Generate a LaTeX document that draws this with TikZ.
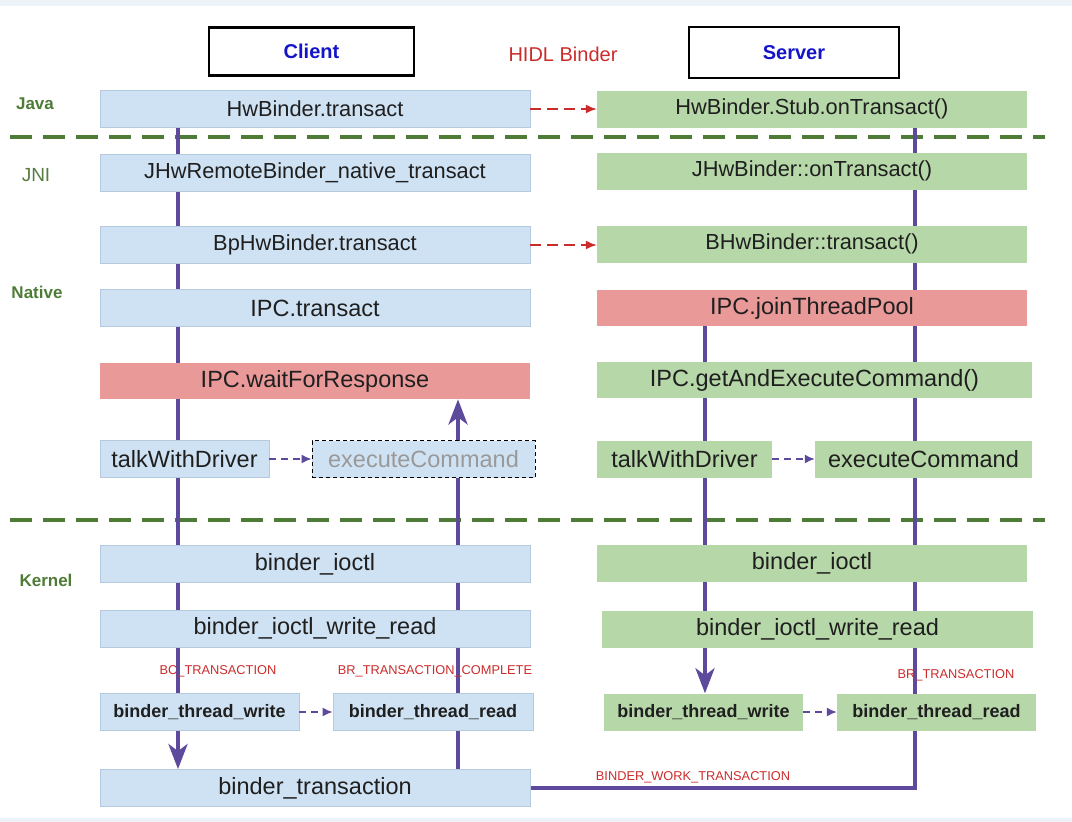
\documentclass[tikz,border=0pt]{standalone}
\usepackage{fontspec}
\setmainfont{Liberation Sans}
\usepackage{tikz}
\usetikzlibrary{arrows.meta}
\usetikzlibrary{positioning}
\definecolor{clientblue}{HTML}{CFE2F3}
\definecolor{clientedge}{HTML}{B6CADF}
\definecolor{servergreen}{HTML}{B6D7A8}
\definecolor{blockred}{HTML}{EA9999}
\definecolor{flowpurple}{HTML}{5E4A9C}
\definecolor{layergreen}{HTML}{4E7B36}
\definecolor{msgred}{HTML}{CC2B2B}
\definecolor{headblue}{HTML}{1414C8}
\definecolor{paper}{HTML}{EEF3F9}
\pgfdeclarelayer{under}
\pgfsetlayers{under,main}
\tikzstyle{cb}=[fill=clientblue,draw=clientedge,line width=0.8pt,inner sep=0,minimum height=37pt,text=black!88]
\tikzstyle{sb}=[fill=servergreen,inner sep=0,minimum height=37pt,text=black!88]
\tikzstyle{hot}=[fill=blockred,draw=none]
\tikzstyle{upper}=[font=\fontsize{21.8}{24}\selectfont]
\tikzstyle{lower}=[font=\fontsize{23.5}{26}\selectfont]
\tikzstyle{thread}=[font=\fontsize{18}{20}\selectfont\bfseries]
\tikzstyle{head}=[draw=black,line width=2.5pt,minimum height=48pt,text=headblue,font=\fontsize{20}{22}\selectfont\bfseries]
\tikzstyle{layername}=[text=layergreen,font=\fontsize{17}{20}\selectfont\bfseries]
\tikzstyle{msg}=[text=msgred,font=\fontsize{12.8}{14}\selectfont]
\tikzstyle{flow}=[draw=flowpurple,line width=4pt]
\tikzstyle{hop}=[flow,-{Stealth[length=25pt,width=19pt,inset=7pt]}]
\tikzstyle{call}=[draw=msgred,line width=1.6pt,dash pattern=on 11pt off 6pt,-{Latex[length=11pt,width=9pt]}]
\tikzstyle{nextstep}=[draw=flowpurple,line width=1.6pt,dash pattern=on 7pt off 5pt,-{Latex[length=10pt,width=9pt]}]
\tikzstyle{layersep}=[draw=layergreen,line width=3.5pt,dash pattern=on 22pt off 11pt]

\begin{document}
\begin{tikzpicture}[x=1pt,y=-1pt]
\useasboundingbox (0,0) rectangle (1072,822);
\node (client) at (311.5,51.5) [head,minimum width=205pt] {Client};
\node (server) at (794,52.5) [head,minimum width=210pt,minimum height=51pt] {Server};
\node (hidl) at (563,54) [text=msgred,font=\fontsize{20}{22}\selectfont] {HIDL Binder};
\node (java) at (35,104) [layername] {Java};
\node (jni) at (36,175) [text=layergreen!85!gray,font=\fontsize{19}{22}\selectfont] {JNI};
\node (native) at (37,292) [layername] {Native};
\node (kernel) at (46,580) [layername] {Kernel};

\node (jt) at (315,109) [cb,upper,minimum width=430pt] {HwBinder.transact};
\node (jnit) at (315,173) [cb,upper,minimum width=430pt] {JHwRemoteBinder\_native\_transact};
\node (bp) at (315,245) [cb,upper,minimum width=430pt] {BpHwBinder.transact};
\node (ipct) at (315,308) [cb,lower,minimum width=430pt] {IPC.transact};
\node (wait) at (315,381) [cb,hot,lower,minimum width=430pt,minimum height=36pt] {IPC.waitForResponse};
\node (talkL) at (184.5,459) [cb,lower,minimum width=169pt] {talkWithDriver};
\node (execL) at (423.5,459) [cb,lower,minimum width=223pt,draw=black,line width=0.9pt,dash pattern=on 4pt off 3pt,text=black!40] {executeCommand};
\node (ioctlL) at (315,564) [cb,lower,minimum width=430pt] {binder\_ioctl};
\node (wrL) at (315,628.5) [cb,lower,minimum width=430pt] {binder\_ioctl\_write\_read};
\node (twL) at (199.5,712) [cb,thread,minimum width=199pt] {binder\_thread\_write};
\node (trL) at (433,712) [cb,thread,minimum width=200pt] {binder\_thread\_read};
\node (trans) at (315,788) [cb,lower,minimum width=430pt] {binder\_transaction};

\node (stub) at (812,109) [sb,upper,minimum width=430pt] {HwBinder.Stub.onTransact()};
\node (jhw) at (812,171) [sb,upper,minimum width=430pt] {JHwBinder::onTransact()};
\node (bhw) at (812,244) [sb,upper,minimum width=430pt] {BHwBinder::transact()};
\node (join) at (812,308) [sb,hot,lower,minimum width=430pt,minimum height=36pt] {IPC.joinThreadPool};
\node (getex) at (814.5,380) [sb,lower,minimum width=435pt,minimum height=36pt] {IPC.getAndExecuteCommand()};
\node (talkR) at (684.5,459) [sb,lower,minimum width=175pt] {talkWithDriver};
\node (execR) at (923.5,459) [sb,lower,minimum width=217pt] {executeCommand};
\node (ioctlR) at (812,563) [sb,lower,minimum width=430pt] {binder\_ioctl};
\node (wrR) at (817.5,629) [sb,lower,minimum width=431pt] {binder\_ioctl\_write\_read};
\node (twR) at (703.5,712) [sb,thread,minimum width=199pt] {binder\_thread\_write};
\node (trR) at (936.5,712) [sb,thread,minimum width=199pt] {binder\_thread\_read};

\node (bc) at (218,671) [msg] {BC\_TRANSACTION};
\node (brc) at (435,671) [msg] {BR\_TRANSACTION\_COMPLETE};
\node (br) at (956,675) [msg] {BR\_TRANSACTION};
\node (bwt) at (693,777) [msg] {BINDER\_WORK\_TRANSACTION};

\coordinate (lc) at (178,0);
\coordinate (rc) at (458,0);
\coordinate (sl) at (705,0);
\coordinate (sr) at (915,0);

\begin{pgfonlayer}{under}
\fill[paper] (0,0) rectangle (1072,6);
\fill[paper] (0,818) rectangle (1072,822);
\draw[layersep] (10,137) -- (1045,137);
\draw[layersep] (10,520) -- (1045,520);
\draw[hop] (jt.south -| lc) -- (trans.north -| lc);
\draw[hop] (trans.north -| rc) -- (wait.south -| rc);
\draw[hop] (join.south -| sl) -- (twR.north -| sl);
\draw[flow] (trans.east) -| (stub.south -| sr);
\end{pgfonlayer}

\draw[call] (jt.east) -- (stub.west);
\draw[call] (bp.east) -- (bp.east -| bhw.west);
\draw[nextstep] (talkL) -- (execL);
\draw[nextstep] (talkR) -- (execR);
\draw[nextstep] (twL) -- (trL);
\draw[nextstep] (twR) -- (trR);
\end{tikzpicture}
\end{document}
